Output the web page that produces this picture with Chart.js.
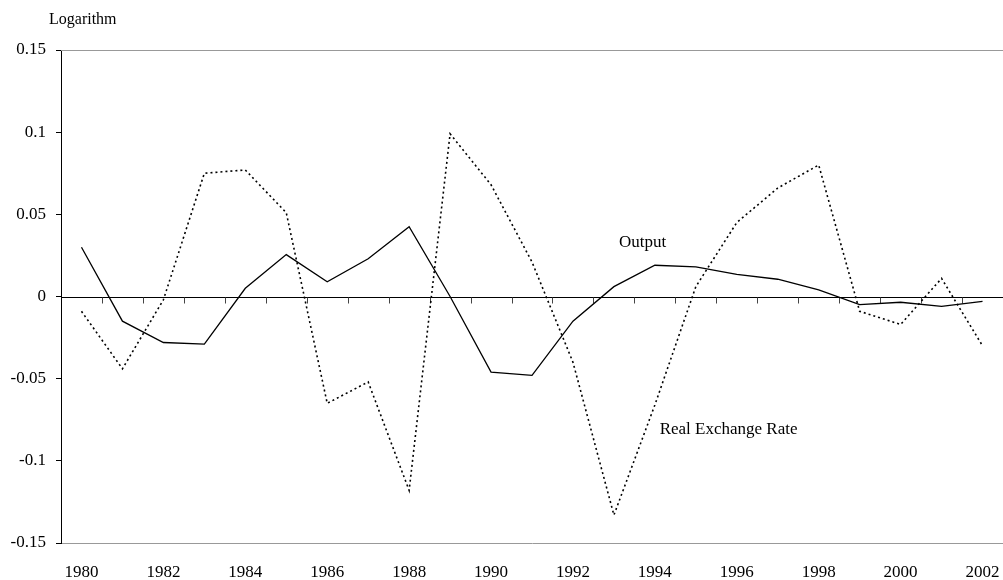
<!DOCTYPE html>
<html>
<head>
<meta charset="utf-8">
<script src="https://cdn.jsdelivr.net/npm/chart.js@4/dist/chart.umd.min.js"></script>
<style>
  body { margin: 0; background: #fff; }
  #wrap { width: 1003px; height: 580px; position: relative; }
</style>
</head>
<body>
<div id="wrap"><canvas id="myChart"></canvas></div>
<script>
// years on the x axis
const years = ['1980', '1981', '1982', '1983', '1984', '1985', '1986', '1987', '1988', '1989', '1990',
  '1991', '1992', '1993', '1994', '1995', '1996', '1997', '1998', '1999', '2000', '2001', '2002'];

// solid line
const output = [0.030, -0.015, -0.028, -0.029, 0.005, 0.0255, 0.009, 0.023, 0.0425, 0.000, -0.046,
  -0.048, -0.015, 0.006, 0.019, 0.018, 0.0135, 0.0105, 0.004, -0.005, -0.0035, -0.006, -0.003];

// dotted line
const realExchangeRate = [-0.009, -0.044, -0.002, 0.075, 0.077, 0.051, -0.065, -0.052, -0.118, 0.099, 0.068,
  0.021, -0.040, -0.133, -0.066, 0.006, 0.045, 0.066, 0.080, -0.009, -0.017, 0.011, -0.030];

const yTicks = [-0.15, -0.1, -0.05, 0, 0.05, 0.1, 0.15];
const yTickLabels = ['-0.15', '-0.1', '-0.05', '0', '0.05', '0.1', '0.15'];

// text labels inside the plot, in data units (category index, value)
const seriesNotes = [
  { text: 'Output', x: 13.7, y: 0.033 },
  { text: 'Real Exchange Rate', x: 15.8, y: -0.081 }
];

Chart.defaults.font.family = "'Liberation Serif', 'Times New Roman', serif";
Chart.defaults.font.size = 17;
Chart.defaults.color = '#000';

// zero line with year ticks, top border, notes and axis caption
const decorations = {
  id: 'decorations',
  beforeDatasetsDraw(chart) {
    const { ctx, chartArea, scales: { x, y } } = chart;
    ctx.save();
    // top border
    ctx.strokeStyle = '#999';
    ctx.lineWidth = 1;
    ctx.beginPath();
    ctx.moveTo(chartArea.left, Math.round(chartArea.top) + 0.5);
    ctx.lineTo(chartArea.right, Math.round(chartArea.top) + 0.5);
    ctx.stroke();
    // zero line
    const y0 = Math.round(y.getPixelForValue(0)) + 0.5;
    ctx.strokeStyle = '#000';
    ctx.beginPath();
    ctx.moveTo(chartArea.left, y0);
    ctx.lineTo(chartArea.right, y0);
    ctx.stroke();
    ctx.strokeStyle = '#444';
    ctx.beginPath();
    for (let i = 1; i <= years.length; i++) {
      const bx = Math.round(x.getPixelForValue(i - 0.5)) + 0.5;
      ctx.moveTo(bx, y0);
      ctx.lineTo(bx, y0 + 6);
    }
    ctx.stroke();
    ctx.restore();
  },
  afterDraw(chart) {
    const { ctx, scales: { x, y } } = chart;
    ctx.save();
    ctx.fillStyle = '#000';
    ctx.textAlign = 'center';
    ctx.textBaseline = 'middle';
    ctx.font = "17px 'Liberation Serif', serif";
    seriesNotes.forEach(n => {
      ctx.fillText(n.text, x.getPixelForValue(n.x), y.getPixelForValue(n.y));
    });
    ctx.textAlign = 'left';
    ctx.font = "16px 'Liberation Serif', serif";
    ctx.fillText('Logarithm', 49, 20);
    ctx.restore();
  }
};

new Chart(document.getElementById('myChart').getContext('2d'), {
  type: 'line',
  data: {
    labels: years,
    datasets: [
      {
        label: 'Output',
        data: output,
        borderColor: '#000',
        borderWidth: 1.3,
        pointRadius: 0,
        tension: 0,
        fill: false
      },
      {
        label: 'Real Exchange Rate',
        data: realExchangeRate,
        borderColor: '#000',
        borderWidth: 1.6,
        borderDash: [2, 3],
        pointRadius: 0,
        tension: 0,
        fill: false
      }
    ]
  },
  options: {
    responsive: true,
    maintainAspectRatio: false,
    animation: false,
    layout: { padding: { top: 50, right: 0, left: 0, bottom: 0 } },
    plugins: {
      legend: { display: false },
      tooltip: { enabled: false }
    },
    scales: {
      x: {
        type: 'category',
        offset: true,
        grid: { display: false, drawTicks: false },
        border: { display: true, color: '#999', width: 1 },
        ticks: {
          autoSkip: false,
          maxRotation: 0,
          padding: 19,
          callback: (val, i) => (i % 2 === 0 ? years[i] : '')
        },
        afterFit: s => { s.height = 37; s.paddingRight = 0; s.paddingLeft = 0; }
      },
      y: {
        min: -0.15,
        max: 0.15,
        afterBuildTicks: s => { s.ticks = yTicks.map(v => ({ value: v })); },
        grid: { drawOnChartArea: false, tickLength: 5, color: '#000' },
        border: { display: true, color: '#000', width: 1 },
        ticks: {
          padding: 10,
          callback: (val, i) => yTickLabels[i]
        },
        afterFit: s => { s.width = 61; }
      }
    }
  },
  plugins: [decorations]
});
</script>
</body>
</html>
